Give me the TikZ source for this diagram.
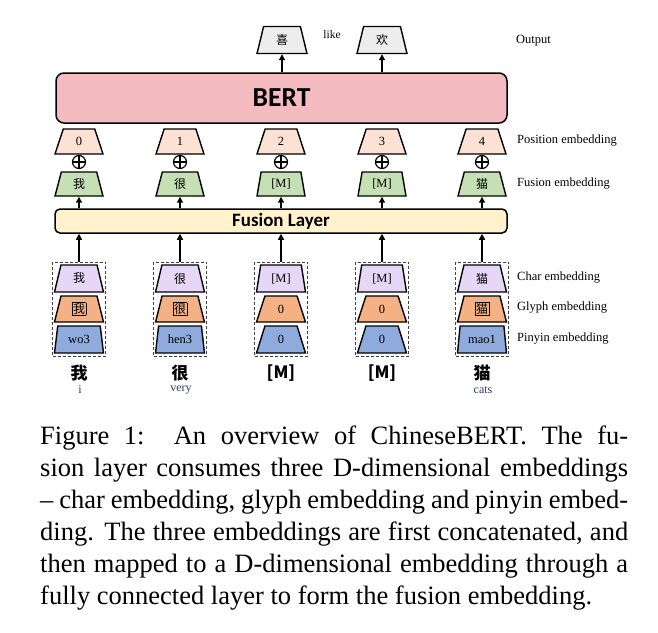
\documentclass[tikz,border=0pt]{standalone}
\usepackage{fontspec}
\setmainfont{Liberation Serif}
\newfontfamily\cjk{Noto Sans CJK SC}
\newfontfamily\calfont{Carlito}
\usetikzlibrary{shapes.geometric,arrows.meta}
\definecolor{bertpink}{HTML}{F4BCC0}
\definecolor{fusyellow}{HTML}{FFF2CC}
\definecolor{pospeach}{HTML}{FBE2D5}
\definecolor{fusgreen}{HTML}{C5E0B4}
\definecolor{charlav}{HTML}{E6D7F7}
\definecolor{glyphor}{HTML}{F4B183}
\definecolor{pinblue}{HTML}{8FAADC}
\definecolor{outgray}{HTML}{EDEDED}
\definecolor{subblue}{HTML}{2E3B66}
\tikzset{
  trap/.style={trapezium, trapezium left angle=79, trapezium right angle=79,
    trapezium stretches=true, draw=black, line width=1.4pt,
    minimum width=49pt, minimum height=26pt, inner sep=0pt,
    font=\fontsize{12.5}{14}\selectfont},
  arr/.style={-{Triangle[length=6pt,width=6pt]}, line width=1.3pt},
  bigbox/.style={draw=black, line width=1.5pt, rounded corners=8pt},
  dbox/.style={draw=black!75, line width=0.9pt, dash pattern=on 3pt off 2pt,
    minimum width=53pt, minimum height=94pt, inner sep=0pt},
  oplus/.style={circle, draw=black, line width=1.2pt, minimum size=13pt, inner sep=0pt,
    path picture={\draw[line width=1.2pt] (path picture bounding box.north) -- (path picture bounding box.south)
      (path picture bounding box.west) -- (path picture bounding box.east);}},
  lab/.style={anchor=west, inner sep=0pt, font=\fontsize{12.5}{14}\selectfont},
  capline/.style={anchor=base west, inner sep=0pt, font=\fontsize{26.5}{32}\selectfont},
}
\newcommand{\cj}[1]{{\cjk\fontsize{12}{12}\selectfont #1}}
\newcommand{\gl}[1]{{\setlength{\fboxsep}{0.6pt}\setlength{\fboxrule}{0.8pt}\fbox{\cjk\fontsize{12}{12}\selectfont #1}}}
\begin{document}
\begin{tikzpicture}[x=1pt,y=-1pt]
\useasboundingbox (0,0) rectangle (658,632);
\fill[white] (0,0) rectangle (658,632);

% output
\node[trap, fill=outgray, minimum height=27pt, minimum width=50pt] (o1) at (282,40) {\cj{喜}};
\node[trap, fill=outgray, minimum height=27pt, minimum width=50pt] (o2) at (382,40) {\cj{欢}};
\node[inner sep=0pt, font=\fontsize{11.5}{12}\selectfont] (like) at (332,35) {like};
\node[lab] (outlab) at (516,41) {Output};

% BERT
\node[bigbox, fill=bertpink, minimum width=451pt, minimum height=50pt, inner sep=0pt,
  font=\calfont\bfseries\fontsize{27.5}{28}\selectfont] (bert) at (281.5,98) {BERT};
\draw[arr] (bert.north -| o1.south) -- (o1.south);
\draw[arr] (bert.north -| o2.south) -- (o2.south);

% fusion layer
\node[draw=black, line width=1.5pt, rounded corners=5pt, fill=fusyellow, minimum width=452pt,
  minimum height=24pt, inner sep=0pt, font=\calfont\bfseries\fontsize{18.9}{19}\selectfont] (fl) at (281,221) {Fusion Layer};

% columns
\foreach \i/\x/\pos/\fus/\ch/\gly/\pin/\big/\sub in {
  0/79/0/\cj{我}/\cj{我}/\gl{我}/wo3/我/i,
  1/180/1/\cj{很}/\cj{很}/\gl{很}/hen3/很/very,
  2/281/2/{[M]}/{[M]}/0/0/{[M]}/{},
  3/382/3/{[M]}/{[M]}/0/0/{[M]}/{},
  4/482/4/\cj{猫}/\cj{猫}/\gl{猫}/mao1/猫/cats}{
  \node[trap, fill=pospeach, minimum height=25pt, minimum width=48pt] (p\i) at (\x,141.5) {\pos};
  \node[oplus] (op\i) at (\x,162) {};
  \node[trap, fill=fusgreen, minimum height=24pt, minimum width=48pt] (f\i) at (\x,184) {\fus};
  \draw[arr] (fl.north -| f\i.south) -- (f\i.south);
  \node[dbox] (d\i) at (\x,309) {};
  \draw[arr] (d\i.north) -- (d\i.north |- fl.south);
  \node[trap, fill=charlav, minimum height=27pt] (c\i) at (\x,278.5) {\ch};
  \node[trap, fill=glyphor] (g\i) at (\x,309) {\gly};
  \node[trap, fill=pinblue, minimum height=27pt] (y\i) at (\x,339.5) {\pin};
  \node[inner sep=0pt, font=\cjk\bfseries\fontsize{17}{17}\selectfont] (w\i) at (\x,373) {\big};
  \node[inner sep=0pt, text=subblue, font=\fontsize{12}{13}\selectfont] (s\i) at (\x+1,390) {\sub};
}

% right labels
\node[lab] (lpos) at (517,141) {Position embedding};
\node[lab] (lfus) at (517,184) {Fusion embedding};
\node[lab] (lchar) at (517,278) {Char embedding};
\node[lab] (lgly) at (517,308) {Glyph embedding};
\node[lab] (lpin) at (517,339) {Pinyin embedding};

% caption
\node[capline] (cap1) at (40,444) {\makebox[588pt][s]{Figure 1:\ \ An overview of ChineseBERT. The fu-}};
\node[capline] (cap2) at (40,476) {\makebox[588pt][s]{sion layer consumes three D-dimensional embeddings}};
\node[capline] (cap3) at (40,508) {\makebox[588pt][s]{– char embedding, glyph embedding and pinyin embed-}};
\node[capline] (cap4) at (40,540) {\makebox[588pt][s]{ding. The three embeddings are first concatenated, and}};
\node[capline] (cap5) at (40,572) {\makebox[588pt][s]{then mapped to a D-dimensional embedding through a}};
\node[capline] (cap6) at (40,604) {fully connected layer to form the fusion embedding.};
\end{tikzpicture}
\end{document}
